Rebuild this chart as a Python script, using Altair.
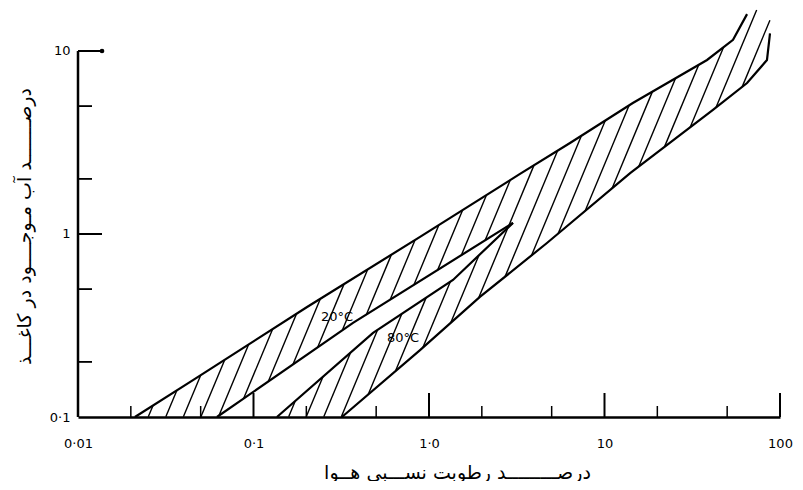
import altair as alt
import numpy as np
import pandas as pd

# ---------------- data ----------------
# outer upper boundary (20°C band top)
upper_x = [0.0211, 0.0452, 0.202, 0.889, 3.30, 6.36, 14.5, 38.4, 54.0, 64.9]
upper_y = [0.10, 0.159, 0.399, 0.964, 2.13, 3.14, 5.20, 8.93, 11.5, 15.9]
# outer lower boundary (80°C band bottom)
lower_x = [0.319, 0.889, 1.95, 4.70, 14.0, 41.5, 64.9, 84.3, 87.7]
lower_y = [0.10, 0.232, 0.453, 0.893, 2.15, 4.76, 6.68, 8.93, 12.5]
# inner lines forming the white wedge
l20_x = [0.0619, 0.369, 3.01]
l20_y = [0.10, 0.327, 1.15]
u80_x = [0.136, 0.480, 1.37, 3.01]
u80_y = [0.10, 0.288, 0.561, 1.15]

label_text = ["20°C", "80°C"]
label_x = [0.299, 0.711]
label_y = [0.352, 0.270]

x_label_values = [0.01, 0.1, 1, 10, 100]
x_label_text = ["0·01", "0·1", "1·0", "10", "100"]
y_label_values = [0.1, 1, 10]
y_label_text = ["0·1", "1", "10"]
x_major = [0.1, 1, 10, 100]
x_minor = [0.02, 0.05, 0.2, 0.5, 2, 5, 20, 50]
y_major = [1, 10]
y_minor = [0.2, 0.5, 2, 5]
y_axis_span = [0.1, 10]

x_title = "درصـــــــــد رطوبت نســـبی هــوا"
y_title = "درصـــــــد آب مـوجــــود در کاغـــذ"

X_DOMAIN = [0.01, 100]
Y_DOMAIN = [0.1, 16.75]
W, H = 702, 407

# ---------------- tables ----------------
curves = []
for name, xs, ys in [("upper", upper_x, upper_y), ("lower", lower_x, lower_y),
                     ("l20", l20_x, l20_y), ("u80", u80_x, u80_y)]:
    for i, (a, b) in enumerate(zip(xs, ys)):
        curves.append({"x": a, "y": b, "curve": name, "ord": i})
curves_df = pd.DataFrame(curves)


def fn(xs, ys, left, right):
    lx = np.log10(xs)
    ly = np.log10(ys)
    return lambda q: np.interp(q, lx, ly, left=left, right=right)


U = fn(upper_x, upper_y, -10, 10)
LB = fn(lower_x, lower_y, -1, 10)
WT = fn(l20_x, l20_y, -10, -10)
WB = fn(u80_x, u80_y, -1, -1)

# hatch pattern (style only) clipped to the band region
k = 2.3
step = 0.1
top = np.log10(Y_DOMAIN[1])
lyv = np.arange(-1, top, 0.001)
segs = []
for c in np.arange(-2.8, 2.1, step):
    lxv = c + (lyv + 1) / k
    inside = ((lyv < U(lxv)) & (lyv > np.maximum(LB(lxv), -1))
              & ~((lyv > WB(lxv)) & (lyv < WT(lxv)))
              & (lxv >= -2) & (lxv <= 2))
    edges = np.flatnonzero(np.diff(np.concatenate([[0], inside.astype(int), [0]])))
    for s, e in zip(edges[::2], edges[1::2]):
        if e - s > 8:
            segs.append({"x": 10 ** lxv[s], "y": 10 ** lyv[s],
                         "x2": 10 ** lxv[e - 1], "y2": 10 ** lyv[e - 1]})
hatch_df = pd.DataFrame(segs)

labels_df = pd.DataFrame({"x": label_x, "y": label_y, "t": label_text})


def label_expr(vals, texts):
    parts = [f"abs(datum.value - {v}) < {v * 1e-3} ? '{t}'" for v, t in zip(vals, texts)]
    return " : ".join(parts) + " : ''"


FONT = "DejaVu Sans"
xscale = alt.Scale(type="log", domain=X_DOMAIN, nice=False)
yscale = alt.Scale(type="log", domain=Y_DOMAIN, nice=False)

x_axis = alt.Axis(values=x_label_values, labelExpr=label_expr(x_label_values, x_label_text),
                  ticks=False, grid=False, domain=True, domainColor="black", domainWidth=2.5,
                  labelPadding=20, labelFont=FONT, labelFontSize=13, labelColor="black",
                  labelFlush=False, title=x_title, titleFont=FONT, titleFontSize=19,
                  titleFontWeight="normal", titleColor="black", titleX=379, titleY=55,
                  titleBaseline="middle")
y_axis = alt.Axis(values=y_label_values, labelExpr=label_expr(y_label_values, y_label_text),
                  ticks=False, grid=False, domain=False, labelPadding=8, labelFont=FONT,
                  labelFontSize=13, labelColor="black", labelFlush=False,
                  title=y_title, titleFont=FONT, titleFontSize=19, titleFontWeight="normal",
                  titleColor="black", titleX=-54, titleY=216, titleBaseline="middle")

X = alt.X("x:Q", scale=xscale, axis=x_axis)
Y = alt.Y("y:Q", scale=yscale, axis=y_axis)

hatch = alt.Chart(hatch_df).mark_rule(color="black", strokeWidth=1.4).encode(
    x=X, y=Y, x2="x2:Q", y2="y2:Q")

lines = alt.Chart(curves_df).mark_line(color="black", strokeWidth=2.2).encode(
    x=X, y=Y, detail="curve:N", order="ord:Q")

texts = alt.Chart(labels_df).mark_text(font=FONT, fontSize=13, color="black").encode(
    x=X, y=Y, text="t:N")

xt_major = alt.Chart(pd.DataFrame({"x": x_major})).mark_rule(color="black", strokeWidth=2).encode(
    x=X, y=alt.value(H), y2=alt.value(H - 24))
xt_minor = alt.Chart(pd.DataFrame({"x": x_minor})).mark_rule(color="black", strokeWidth=1.5).encode(
    x=X, y=alt.value(H), y2=alt.value(H - 11))

y_line = alt.Chart(pd.DataFrame({"y": [y_axis_span[0]], "y2": [y_axis_span[1]]})).mark_rule(
    color="black", strokeWidth=2.5).encode(x=alt.value(0), y=Y, y2="y2:Q")
yt_major = alt.Chart(pd.DataFrame({"y": y_major})).mark_rule(color="black", strokeWidth=2).encode(
    y=Y, x=alt.value(0), x2=alt.value(24))
yt_minor = alt.Chart(pd.DataFrame({"y": y_minor})).mark_rule(color="black", strokeWidth=1.8).encode(
    y=Y, x=alt.value(0), x2=alt.value(14))
ydot = alt.Chart(pd.DataFrame({"y": [y_axis_span[1]]})).mark_circle(color="black", size=22, opacity=1).encode(
    y=Y, x=alt.value(24))

chart = alt.layer(hatch, lines, texts, xt_major, xt_minor, y_line, yt_major, yt_minor, ydot).properties(
    width=W, height=H,
    autosize=alt.AutoSizeParams(type="none"),
    padding={"left": 70, "top": 2, "right": 15, "bottom": 64},
    background="white",
).configure_view(stroke=None)

chart.save("out.html", embed_options={"renderer": "svg", "actions": False})
